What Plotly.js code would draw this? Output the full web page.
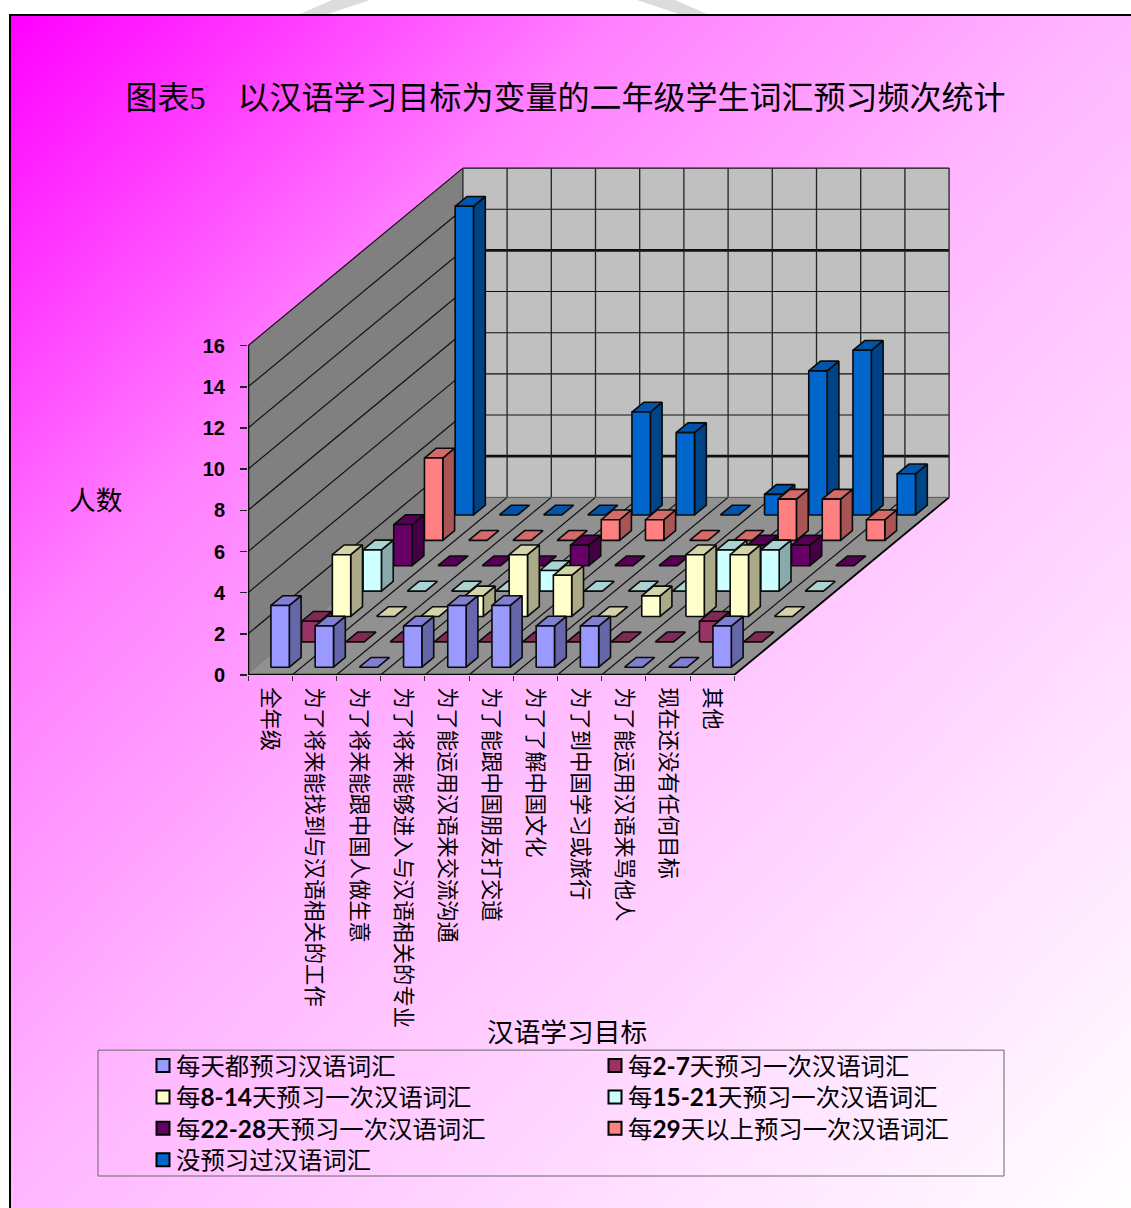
<!DOCTYPE html>
<html lang="zh">
<head>
<meta charset="utf-8">
<script src="https://cdn.plot.ly/plotly-3.0.1.min.js"></script>
<style>
html,body{margin:0;padding:0;background:#fff;overflow:hidden;width:1131px;height:1208px}
#bg{position:absolute;left:9px;top:14px;width:1122px;height:1194px;box-sizing:border-box;border-left:2px solid #000;border-top:2px solid #000;background:linear-gradient(to bottom right,#ff00ff 0%,#ff80ff 27%,#ffb8ff 50%,#ffd4ff 69%,#ffffff 100%)}
.wm{position:absolute;top:0;height:14px;width:80px;background:#dcdcdc;clip-path:polygon(35px 0,73px 0,31px 14px,3px 14px)}
#chart{position:absolute;left:0;top:0;width:1131px;height:1208px}
</style>
</head>
<body>
<div class="wm" style="left:297px"></div>
<div class="wm" style="left:630px;transform:scaleX(-1)"></div>
<div id="bg"></div>
<div id="chart"></div>
<script>
const categories = ['全年级','为了将来能找到与汉语相关的工作','为了将来能跟中国人做生意','为了将来能够进入与汉语相关的专业','为了能运用汉语来交流沟通','为了能跟中国朋友打交道','为了了解中国文化','为了到中国学习或旅行','为了能运用汉语来骂他人','现在还没有任何目标','其他'];
const seriesNames = ['每天都预习汉语词汇','每<b>2-7</b>天预习一次汉语词汇','每<b>8-14</b>天预习一次汉语词汇','每<b>15-21</b>天预习一次汉语词汇','每<b>22-28</b>天预习一次汉语词汇','每<b>29</b>天以上预习一次汉语词汇','没预习过汉语词汇'];
const daily    = [3,2,0,2,3,3,2,2,0,0,2];
const days2to7 = [1,0,0,0,0,0,0,0,0,1,0];
const days8to14= [3,0,0,1,3,2,0,1,3,3,0];
const days15to21=[2,0,0,0,1,0,0,0,2,2,0];
const days22to28=[2,0,0,0,1,0,0,0,1,1,0];
const days29plus=[4,0,0,0,1,1,0,0,2,2,1];
const never    = [15,0,0,0,5,4,0,1,7,8,2];
const seriesValues = [daily,days2to7,days8to14,days15to21,days22to28,days29plus,never];
const frontColors = ['#9999ff','#993366','#ffffcc','#ccffff','#660066','#ff8080','#0066cc'];
const topColors   = ['#7f7fd4','#7f2a55','#d4d4aa','#aad4d4','#550055','#d46a6a','#0055aa'];
const sideColors  = ['#6666aa','#662244','#aaaa88','#88aaaa','#440044','#aa5555','#004488'];
const yTicks = [0,2,4,6,8,10,12,14,16];

// oblique projection of (category, series, value) onto the 2D axes
const UX = 44.2, UY = 20.6, SX = 30.7/UX, SY = 25.4/UY, NS = 7, NC = 11, VMAX = 16;
const P = (c,s,v) => [c + s*SX, v + s*SY];
const BAR_C0 = 0.306, BAR_W = 0.415, BAR_S0 = 0.307, BAR_D = 0.385;

function polyTrace(polys, fill, order){
  const x=[], y=[];
  polys.forEach(p=>{ p.forEach(q=>{x.push(q[0]);y.push(q[1]);}); x.push(p[0][0]); y.push(p[0][1]); x.push(null); y.push(null); });
  return {type:'scatter',mode:'lines',x,y,fill:'toself',fillcolor:fill,line:{color:'#0a0a0a',width:1.6},hoverinfo:'skip',showlegend:false,cliponaxis:false};
}
const traces=[];
for(let j=NS-1;j>=0;j--){
  const front=[],side=[],top=[];
  seriesValues[j].forEach((v,i)=>{
    const c0=i+BAR_C0,c1=c0+BAR_W,s0=j+BAR_S0,s1=s0+BAR_D;
    if(v>0){
      front.push([P(c0,s0,0),P(c1,s0,0),P(c1,s0,v),P(c0,s0,v)]);
      side.push([P(c1,s0,0),P(c1,s1,0),P(c1,s1,v),P(c1,s0,v)]);
    }
    top.push([P(c0,s0,v),P(c1,s0,v),P(c1,s1,v),P(c0,s1,v)]);
  });
  if(side.length) traces.push(polyTrace(side,sideColors[j]));
  traces.push(polyTrace(top,topColors[j]));
  if(front.length) traces.push(polyTrace(front,frontColors[j]));
}
seriesNames.forEach((n,j)=>traces.push({type:'scatter',mode:'markers',x:[null],y:[null],name:n,legendrank:j+1,
  marker:{symbol:'square',size:13,color:frontColors[j],line:{color:'#000',width:2}},hoverinfo:'skip'}));

const path = pts => 'M'+pts.map(p=>p[0]+' '+p[1]).join('L')+'Z';
const seg = (a,b,width,color) => ({type:'line',xref:'x',yref:'y',x0:a[0],y0:a[1],x1:b[0],y1:b[1],layer:'below',line:{color:color||'#101010',width}});
const wall = (pts,fill) => ({type:'path',xref:'x',yref:'y',path:path(pts),fillcolor:fill,line:{width:0},layer:'below'});
const shapes=[
  wall([P(0,0,0),P(0,NS,0),P(0,NS,VMAX),P(0,0,VMAX)],'#808080'),
  wall([P(0,NS,0),P(NC,NS,0),P(NC,NS,VMAX),P(0,NS,VMAX)],'#c0c0c0'),
  wall([P(0,0,0),P(NC,0,0),P(NC,NS,0),P(0,NS,0)],'#919191')
];
for(let v=2;v<=VMAX;v+=2){
  shapes.push(seg(P(0,0,v),P(0,NS,v),1.2));
  shapes.push(seg(P(0,NS,v),P(NC,NS,v),(v===2||v===12)?2.8:1.1));
}
for(let k=0;k<=NC;k++){
  shapes.push(seg(P(k,NS,0),P(k,NS,VMAX),1.3,'#222'));
  if(k>0&&k<NC) shapes.push(seg(P(k,0,0),P(k,NS,0),1.2));
}
shapes.push(seg(P(NC,0,0),P(NC,NS,0),1.8,'#000'));
shapes.push(seg(P(0,NS,0),P(NC,NS,0),1,'#555'));
shapes.push(seg(P(0,0,0),P(0,0,VMAX),2.5,'#000'));
shapes.push(seg(P(0,0,0),P(NC,0,0),2.5,'#000'));

const W=1131,H=1208,L=248,R=171,T=160,B=532.5;
const PW=W-L-R,PH=H-T-B;
const px = x => (x-L)/PW, py = y => (H-B-y)/PH;
shapes.push({type:'rect',xref:'paper',yref:'paper',x0:px(98),x1:px(1004),y0:py(1177),y1:py(1051),line:{color:'#666',width:1},layer:'below'});

const CJK='"Noto Sans CJK SC"';
const layout={
  width:W,height:H,autosize:false,
  margin:{l:L,r:R,t:T,b:B,pad:0,autoexpand:false},
  paper_bgcolor:'rgba(0,0,0,0)',plot_bgcolor:'rgba(0,0,0,0)',
  font:{family:CJK,color:'#000'},
  title:{text:'图表5　以汉语学习目标为变量的二年级学生词汇预习频次统计',xref:'container',yref:'container',x:125.5/W,xanchor:'left',y:1-98/H,yanchor:'middle',font:{family:'"Liberation Serif",'+CJK,size:32,color:'#000'}},
  xaxis:{range:[0,PW/UX],tickmode:'array',tickvals:categories.map((c,i)=>i+0.5),ticktext:categories,tickangle:90,ticks:'outside',ticklen:0,ticklabelstandoff:7,
    tickfont:{family:CJK,size:21.3,color:'#000'},showgrid:false,zeroline:false,showline:false,
    minor:{tickmode:'array',tickvals:Array.from({length:NC+1},(_,k)=>k),ticks:'outside',ticklen:5,tickcolor:'#333',tickwidth:1,showgrid:false},automargin:false},
  yaxis:{range:[0,PH/UY],tickmode:'array',tickvals:yTicks,ticktext:yTicks.map(String),ticks:'outside',ticklen:7,tickcolor:'#222',tickwidth:1.5,ticklabelstandoff:11,
    tickfont:{family:'"Liberation Sans"',size:20,color:'#000',weight:'bold'},showgrid:false,zeroline:false,showline:false,automargin:false},
  shapes,
  annotations:[
    {text:'人数',xref:'paper',yref:'paper',x:px(95),y:py(499),xanchor:'center',yanchor:'middle',showarrow:false,font:{family:CJK,size:26.7,color:'#000'}},
    {text:'汉语学习目标',xref:'paper',yref:'paper',x:px(567),y:py(1031),xanchor:'center',yanchor:'middle',showarrow:false,font:{family:CJK,size:26.7,color:'#000'}}
  ],
  showlegend:true,
  legend:{orientation:'h',x:px(136),xanchor:'left',y:py(1050),yanchor:'top',bgcolor:'rgba(0,0,0,0)',borderwidth:0,
    entrywidth:407,entrywidthmode:'pixels',font:{family:'Lato,'+CJK,size:24.4,color:'#000'},itemclick:false,itemdoubleclick:false}
};
Plotly.newPlot('chart',traces,layout,{displayModeBar:false,staticPlot:true}).then(gd=>{
  gd.querySelectorAll('.legend .legendsymbols').forEach(s=>s.setAttribute('transform','translate(7,0)'));
  // tighten the legend rows to the reference's line pitch
  const rows=[...gd.querySelectorAll('.legend .traces')];
  const ys=rows.map(r=>parseFloat((r.getAttribute('transform')||'').split(',')[1]));
  const y0=Math.min(...ys);
  const sorted=[...new Set(ys)].sort((a,b)=>a-b);
  rows.forEach((r,i)=>{
    const xv=parseFloat((r.getAttribute('transform')||'').replace('translate(',''));
    r.setAttribute('transform','translate('+xv+','+(y0-6+sorted.indexOf(ys[i])*31.4)+')');
  });
});
</script>
</body>
</html>
